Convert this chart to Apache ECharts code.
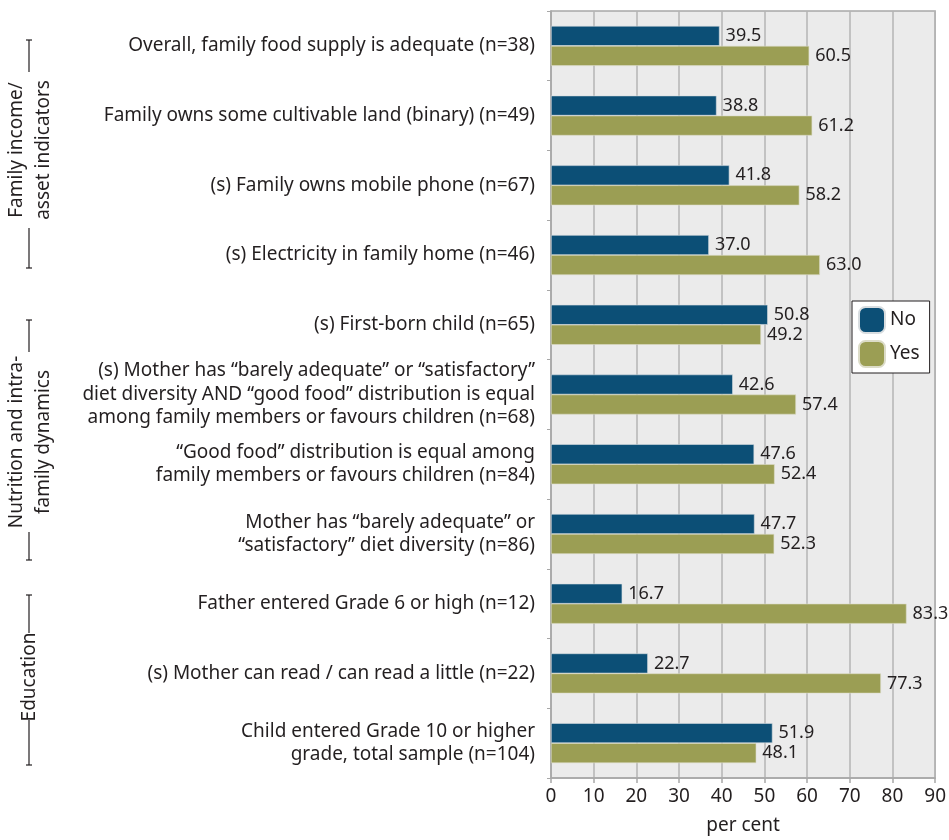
<!DOCTYPE html>
<html><head><meta charset="utf-8">
<script src="https://cdn.jsdelivr.net/npm/echarts@6/dist/echarts.min.js"></script>
<style>html,body{margin:0;padding:0;background:#fff}#c{width:949px;height:840px}</style>
</head><body><div id="c"></div>
<script>
const categories = [
  'Overall, family food supply is adequate (n=38)',
  'Family owns some cultivable land (binary) (n=49)',
  '(s) Family owns mobile phone (n=67)',
  '(s) Electricity in family home (n=46)',
  '(s) First-born child (n=65)',
  '(s) Mother has \u201cbarely adequate\u201d or \u201csatisfactory\u201d\ndiet diversity AND \u201cgood food\u201d distribution is equal\namong family members or favours children (n=68)',
  '\u201cGood food\u201d distribution is equal among\nfamily members or favours children (n=84)',
  'Mother has \u201cbarely adequate\u201d or\n\u201csatisfactory\u201d diet diversity (n=86)',
  'Father entered Grade 6 or high (n=12)',
  '(s) Mother can read / can read a little (n=22)',
  'Child entered Grade 10 or higher\ngrade, total sample (n=104)'
];
const noValues  = [39.5, 38.8, 41.8, 37.0, 50.8, 42.6, 47.6, 47.7, 16.7, 22.7, 51.9];
const yesValues = [60.5, 61.2, 58.2, 63.0, 49.2, 57.4, 52.4, 52.3, 83.3, 77.3, 48.1];
const xTicks = [0, 10, 20, 30, 40, 50, 60, 70, 80, 90];
const groups = ['Family income/\nasset indicators', 'Nutrition and intra-\nfamily dynamics', 'Education'];

const FONT = '"Noto Sans", "Open Sans", sans-serif';
const TXT = '#231f20';
const chart = echarts.init(document.getElementById('c'));

function bracket(x, y1, y2, y3, y4){
  return [
    {type:'line', shape:{x1:x,y1:y1,x2:x,y2:y2}, style:{stroke:'#231f20',lineWidth:1.2}},
    {type:'line', shape:{x1:x-3,y1:y1,x2:x+3,y2:y1}, style:{stroke:'#231f20',lineWidth:1.2}},
    {type:'line', shape:{x1:x,y1:y3,x2:x,y2:y4}, style:{stroke:'#231f20',lineWidth:1.2}},
    {type:'line', shape:{x1:x-3,y1:y4,x2:x+3,y2:y4}, style:{stroke:'#231f20',lineWidth:1.2}}
  ];
}
function groupText(txt, x, y){
  return {type:'text', x:x, y:y, rotation:Math.PI/2,
    style:{text:txt, font:'19px '+FONT, fill:TXT, align:'center', verticalAlign:'middle', lineHeight:27}};
}

chart.setOption({
  animation:false,
  textStyle:{fontFamily:FONT},
  grid:{left:551, right:13, top:11, bottom:51, show:true, backgroundColor:'#ebebeb', borderColor:'#a8a8a8', borderWidth:1.5, containLabel:false},
  legend:{
    data:['No','Yes'], orient:'vertical', left:852, top:301,
    itemWidth:26, itemHeight:26, itemGap:6, padding:[5,10,5,6],
    backgroundColor:'#fff', borderColor:'#231f20', borderWidth:1,
    textStyle:{fontSize:19, color:TXT, fontFamily:FONT}
  },
  xAxis:{
    type:'value', min:0, max:90, interval:10,
    name:'per cent', nameLocation:'middle', nameGap:38,
    nameTextStyle:{fontSize:19, color:TXT},
    axisLabel:{fontSize:19, color:TXT, margin:9, formatter:v=>xTicks.includes(v)?String(v):''},
    axisLine:{show:true, lineStyle:{color:'#a8a8a8', width:1.5}},
    axisTick:{show:true, length:5, lineStyle:{color:'#a8a8a8', width:1.5}},
    splitLine:{show:true, lineStyle:{color:'#b4b4b4', width:1.5}}
  },
  yAxis:{
    type:'category', data:categories, inverse:true,
    axisLine:{show:true, lineStyle:{color:'#a8a8a8', width:1.5}},
    axisTick:{show:true, length:4, lineStyle:{color:'#a8a8a8'}},
    axisLabel:{fontSize:19, color:TXT, margin:16, lineHeight:23.5, align:'right'}
  },
  series:[
    {name:'No', type:'bar', data:noValues, barWidth:20, barGap:'0%',
     itemStyle:{color:'#0c4f76', borderColor:'#d8dde0', borderWidth:0.6},
     label:{show:true, position:'right', distance:6, fontSize:18, color:TXT, formatter:p=>p.value.toFixed(1)}},
    {name:'Yes', type:'bar', data:yesValues, barWidth:20, barGap:'0%',
     itemStyle:{color:'#9b9e54', borderColor:'#dcdcc8', borderWidth:0.6},
     label:{show:true, position:'right', distance:6, fontSize:18, color:TXT, formatter:p=>p.value.toFixed(1)}}
  ],
  graphic:[].concat(
    bracket(29, 40, 72, 228, 268),
    [groupText(groups[0], 30, 150)],
    bracket(29, 320, 352, 532, 560),
    [groupText(groups[1], 30, 442)],
    bracket(29, 595, 633, 720, 765),
    [groupText(groups[2], 30, 677)]
  )
});
</script></body></html>
